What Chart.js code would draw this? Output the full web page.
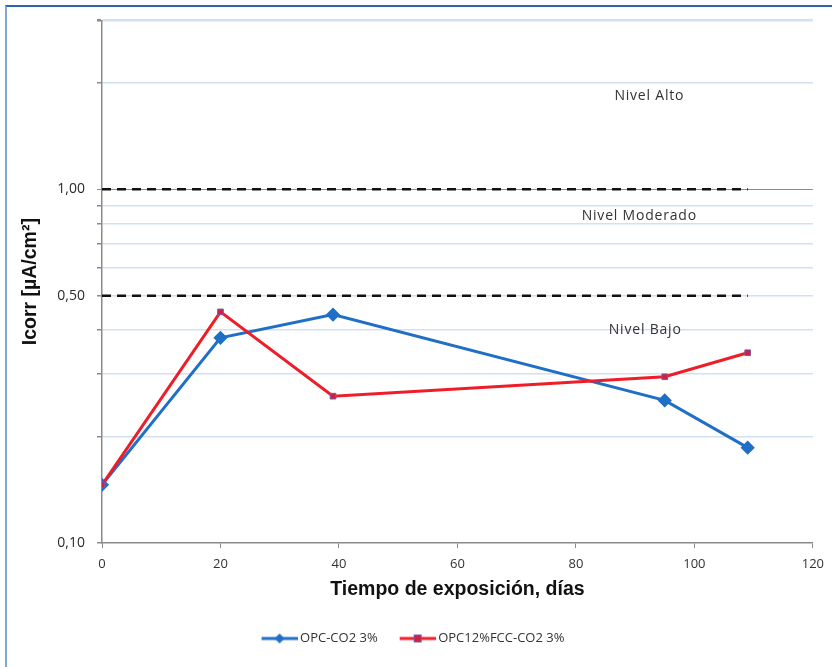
<!DOCTYPE html>
<html>
<head>
<meta charset="utf-8">
<script src="https://cdn.jsdelivr.net/npm/chart.js@4/dist/chart.umd.min.js"></script>
<style>
  html, body { margin: 0; padding: 0; background: #fff; overflow: hidden; }
  #wrap { position: relative; width: 832px; height: 667px; }
  #frame {
    position: absolute; left: 5px; top: 5px; width: 840px; height: 680px;
    border-top: 2px solid #2c64aa; border-left: 2px solid #7fa8da;
    pointer-events: none;
  }
  canvas { position: absolute; left: 0; top: 0; }
</style>
</head>
<body>
<div id="wrap">
  <canvas id="chart" width="832" height="667"></canvas>
  <div id="frame"></div>
</div>
<script>
// Exposure time (days) and corrosion current density (µA/cm²)
const days = [0, 20, 39, 95, 109];
const opcCo2 = [0.146, 0.380, 0.442, 0.253, 0.186];
const opcFccCo2 = [0.146, 0.450, 0.260, 0.295, 0.345];

const seriesNames = ['OPC-CO2 3%', 'OPC12%FCC-CO2 3%'];

// Corrosion level thresholds (dashed limits) and level names
const levelLimits = [1.0, 0.5];
const levelLimitEnd = 109;
const levelNames = ['Nivel Alto', 'Nivel Moderado', 'Nivel Bajo'];
const levelLabelX = [92.4, 90.7, 91.7];
const levelLabelY = [1.83, 0.84, 0.40];

// Log-axis grid values and the labelled ones
const yTickValues = [0.1, 0.2, 0.3, 0.4, 0.5, 0.6, 0.7, 0.8, 0.9, 1, 2, 3];
const yLabelled = [0.1, 0.5, 1];
const yLabelText = ['0,10', '0,50', '1,00'];

const BLUE = '#1f6fc6';
const RED = '#ee1d27';
const BODY_FONT = '"Open Sans", "DejaVu Sans", sans-serif';
const TITLE_FONT = '"Liberation Sans", Arial, sans-serif';

// Legend swatch: a short line with the series marker, with blank space on the left
function legendSwatch(color, marker) {
  const c = document.createElement('canvas');
  c.width = 52; c.height = 12;
  const g = c.getContext('2d');
  const x0 = 16, x1 = 52, xm = (x0 + x1) / 2;
  g.strokeStyle = color; g.lineWidth = 3;
  g.beginPath(); g.moveTo(x0, 6); g.lineTo(x1, 6); g.stroke();
  if (marker === 'diamond') {
    g.fillStyle = color;
    g.beginPath(); g.moveTo(xm, 1); g.lineTo(xm + 5, 6); g.lineTo(xm, 11); g.lineTo(xm - 5, 6); g.closePath(); g.fill();
  } else {
    g.fillStyle = '#cf2040'; g.strokeStyle = '#7a5aa8'; g.lineWidth = 1;
    g.fillRect(xm - 3.5, 2.5, 7, 7); g.strokeRect(xm - 3.5, 2.5, 7, 7);
  }
  return c;
}

const levelText = {
  id: 'levelText',
  afterDatasetsDraw(chart) {
    const { ctx, scales: { x, y } } = chart;
    ctx.save();
    ctx.font = '14px ' + BODY_FONT;
    ctx.letterSpacing = '0.8px';
    ctx.fillStyle = '#333';
    ctx.textAlign = 'center';
    ctx.textBaseline = 'middle';
    levelNames.forEach((t, i) => {
      ctx.fillText(t, x.getPixelForValue(levelLabelX[i]), y.getPixelForValue(levelLabelY[i]));
    });
    ctx.restore();
  }
};

const limitSets = levelLimits.map(v => ({
  label: 'limit',
  data: [{ x: 0, y: v }, { x: levelLimitEnd, y: v }],
  borderColor: '#111',
  borderWidth: 2.5,
  borderDash: [9, 6],
  pointRadius: 0,
  order: 3
}));

new Chart(document.getElementById('chart'), {
  type: 'line',
  data: {
    datasets: [
      {
        label: seriesNames[0],
        data: days.map((d, i) => ({ x: d, y: opcCo2[i] })),
        borderColor: BLUE, backgroundColor: BLUE,
        borderWidth: 3,
        pointStyle: 'rectRot', pointRadius: 5,
        pointBackgroundColor: BLUE, pointBorderColor: BLUE,
        order: 2
      },
      {
        label: seriesNames[1],
        data: days.map((d, i) => ({ x: d, y: opcFccCo2[i] })),
        borderColor: RED, backgroundColor: RED,
        borderWidth: 3,
        pointStyle: 'rect', pointRadius: 4,
        pointBackgroundColor: '#cf2040', pointBorderColor: '#7a5aa8', pointBorderWidth: 1,
        order: 1
      },
      ...limitSets
    ]
  },
  options: {
    responsive: false,
    animation: false,
    layout: { padding: { top: 20, right: 18, bottom: 12, left: 0 } },
    plugins: {
      legend: {
        position: 'bottom',
        labels: {
          usePointStyle: true,
          pointStyleWidth: 44,
          padding: 10,
          color: '#333',
          font: { size: 13, family: BODY_FONT },
          generateLabels: chart => seriesNames.map((n, i) => ({
            text: n,
            pointStyle: legendSwatch(i === 0 ? BLUE : RED, i === 0 ? 'diamond' : 'square'),
            fontColor: '#333',
            lineWidth: 0,
            datasetIndex: i
          }))
        }
      },
      tooltip: { enabled: false }
    },
    scales: {
      x: {
        type: 'linear',
        min: 0, max: 120,
        afterFit: s => { s.height = 79; },
        ticks: {
          stepSize: 20, padding: 8, color: '#333',
          font: { size: 13, family: BODY_FONT }
        },
        grid: { drawOnChartArea: false, drawTicks: true, tickLength: 5, tickColor: '#8a8a8a' },
        border: { color: '#8a8a8a', width: 1.5 },
        title: {
          display: true,
          text: 'Tiempo de exposición, días',
          color: '#111',
          font: { size: 19.5, weight: 'bold', family: TITLE_FONT },
          padding: { top: 0, bottom: 21 }
        }
      },
      y: {
        type: 'logarithmic',
        min: 0.1, max: 3,
        afterFit: s => { s.width = 102; },
        afterBuildTicks: s => { s.ticks = yTickValues.map(v => ({ value: v })); },
        ticks: {
          autoSkip: false,
          padding: 12,
          color: '#2a2a2a',
          font: { size: 14, family: BODY_FONT },
          callback: v => {
            const k = yLabelled.findIndex(t => Math.abs(t - v) < 1e-9);
            return k >= 0 ? yLabelText[k] : '';
          }
        },
        grid: {
          drawTicks: true,
          tickLength: 5,
          tickColor: '#8a8a8a',
          color: ctx => {
            const v = ctx.tick ? ctx.tick.value : 0;
            if (Math.abs(v - 1) < 1e-9) return '#8c8c8c';
            if (Math.abs(v - 0.1) < 1e-9) return 'rgba(0,0,0,0)';
            return '#d3e0f1';
          },
          lineWidth: ctx => {
            const v = ctx.tick ? ctx.tick.value : 0;
            if (Math.abs(v - 1) < 1e-9) return 1;
            if (Math.abs(v - 3) < 1e-9) return 2.5;
            return 1.5;
          }
        },
        border: { color: '#8a8a8a', width: 1.5 },
        title: {
          display: true,
          text: 'Icorr [µA/cm²]',
          color: '#111',
          font: { size: 19.5, weight: 'bold', family: TITLE_FONT },
          padding: { top: 19, bottom: 0 }
        }
      }
    }
  },
  plugins: [levelText]
});
</script>
</body>
</html>
